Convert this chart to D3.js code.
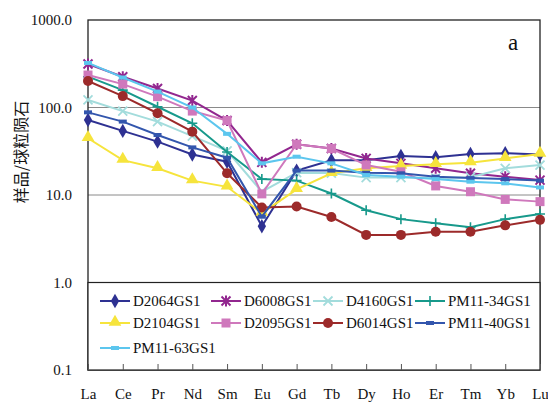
<!DOCTYPE html>
<html>
<head>
<meta charset="utf-8">
<title>REE pattern</title>
<script src="https://d3js.org/d3.v7.min.js"></script>
<style>
  body { margin: 0; background: #fff; }
  svg text { font-family: 'Liberation Serif', 'Times New Roman', 'DejaVu Serif', serif; fill: #111; }
</style>
</head>
<body>
<div id="chart"></div>
<script>
const elements = ["La","Ce","Pr","Nd","Sm","Eu","Gd","Tb","Dy","Ho","Er","Tm","Yb","Lu"];
const yTicks = [0.1, 1, 10, 100, 1000];

const D2064GS1   = [72, 54, 40.7, 29, 24, 4.4, 19, 25, 25, 27.9, 27, 29.4, 30, 29];
const D6008GS1   = [314, 225, 165, 120, 71, 23.6, 38, 34, 26.2, 23, 20.2, 17.7, 16.2, 14.8];
const D4160GS1   = [122, 91, 69, 47, 32, 10.9, 18, 17.8, 15.8, 15.8, 15.6, 16, 20.2, 22];
const PM11_34GS1 = [225, 158, 102, 66, 31, 15.2, 14.6, 10.4, 6.7, 5.3, 4.75, 4.27, 5.3, 6.07];
const D2104GS1   = [44.5, 25, 20.2, 14.6, 12.4, 6.2, 11.6, 17.7, 20.2, 21.4, 22.4, 23.4, 26.2, 29.4];
const D2095GS1   = [235, 185, 133, 91, 71, 10.3, 38, 34, 22, 18.4, 12.7, 10.9, 8.9, 8.4];
const D6014GS1   = [201, 135, 86, 53, 17.7, 7.2, 7.4, 5.6, 3.5, 3.5, 3.8, 3.8, 4.5, 5.2];
const PM11_40GS1 = [88, 69, 48.5, 35, 26.7, 5.65, 19, 19, 18, 17.7, 16.2, 15.6, 15.2, 14.6];
const PM11_63GS1 = [323, 220, 152, 100, 50, 23, 27.4, 23, 16.9, 16.2, 15.2, 14.2, 13.6, 12.2];

const series = [
  {name: "D2064GS1",   values: D2064GS1,   color: "#2e3192", mark: "diamond"},
  {name: "D6008GS1",   values: D6008GS1,   color: "#92278f", mark: "star"},
  {name: "D4160GS1",   values: D4160GS1,   color: "#a3dcdc", mark: "times"},
  {name: "PM11-34GS1", values: PM11_34GS1, color: "#17998b", mark: "plus"},
  {name: "D2104GS1",   values: D2104GS1,   color: "#f6e43c", mark: "triangle"},
  {name: "D2095GS1",   values: D2095GS1,   color: "#cf78bc", mark: "square"},
  {name: "D6014GS1",   values: D6014GS1,   color: "#9c2a2a", mark: "circle"},
  {name: "PM11-40GS1", values: PM11_40GS1, color: "#3356ad", mark: "dash"},
  {name: "PM11-63GS1", values: PM11_63GS1, color: "#5cc6ee", mark: "dash"}
];

const W = 548, H = 404;
const pL = 88, pR = 540, pT = 20, pB = 370;
const serif = "'Liberation Serif', 'Times New Roman', 'DejaVu Serif', serif";

const svg = d3.select("#chart").append("svg").attr("width", W).attr("height", H)
  .attr("font-family", serif);

const x = d3.scalePoint().domain(elements).range([pL, pR]);
const y = d3.scaleLog().domain([0.1, 1000]).range([pB, pT]);

// grid
svg.append("g").selectAll("line").data([1, 10, 100]).enter().append("line")
  .attr("x1", pL).attr("x2", pR)
  .attr("y1", d => y(d)).attr("y2", d => y(d))
  .attr("stroke", "#8a8a8a").attr("stroke-width", 1);

// frame
svg.append("rect").attr("x", pL).attr("y", pT)
  .attr("width", pR - pL).attr("height", pB - pT)
  .attr("fill", "none").attr("stroke", "#222").attr("stroke-width", 1.3);

// legend box
svg.append("rect").attr("x", pL).attr("y", y(1))
  .attr("width", pR - pL).attr("height", pB - y(1))
  .attr("fill", "#fff").attr("stroke", "#222").attr("stroke-width", 1.2);

// y axis labels
const yAxis = d3.axisLeft(y).tickValues(yTicks).tickSize(0).tickPadding(16)
  .tickFormat(d3.format(".1f"));
const ya = svg.append("g").attr("transform", `translate(${pL},0)`).call(yAxis)
  .attr("font-family", serif).attr("font-size", 15);
ya.select(".domain").remove();
ya.selectAll("text").attr("fill", "#111");

// x axis
const xAxis = d3.axisBottom(x).tickSizeInner(-6).tickSizeOuter(0).tickPadding(18);
const xa = svg.append("g").attr("transform", `translate(0,${pB})`).call(xAxis)
  .attr("font-family", serif).attr("font-size", 15);
xa.select(".domain").remove();
xa.selectAll("line").attr("stroke", "#555");
xa.selectAll("text").attr("fill", "#111");

// y title
svg.append("text").attr("transform", `translate(20,152) rotate(-90)`)
  .attr("text-anchor", "middle").attr("dominant-baseline", "central")
  .style("font-family", "'Noto Sans CJK SC', sans-serif").style("font-size", "16px")
  .text("样品/球粒陨石");

svg.append("text").attr("x", 513).attr("y", 50).attr("text-anchor", "middle")
  .attr("font-size", 23).text("a");

function drawMark(g, type, color, cx, cy) {
  if (type === "diamond") {
    g.append("path").attr("d", d3.symbol(d3.symbolDiamond, 60)()).attr("transform", `translate(${cx},${cy})`).attr("fill", color);
  } else if (type === "triangle") {
    g.append("path").attr("d", d3.symbol(d3.symbolTriangle, 70)()).attr("transform", `translate(${cx},${cy - 1})`).attr("fill", color);
  } else if (type === "square") {
    g.append("rect").attr("x", cx - 4.5).attr("y", cy - 4.5).attr("width", 9).attr("height", 9).attr("fill", color);
  } else if (type === "circle") {
    g.append("circle").attr("cx", cx).attr("cy", cy).attr("r", 5).attr("fill", color);
  } else if (type === "dash") {
    g.append("rect").attr("x", cx - 4).attr("y", cy - 2).attr("width", 8).attr("height", 4).attr("fill", color);
  } else if (type === "star") {
    const s = 4.5;
    g.append("path").attr("d", `M${cx - s},${cy - s}L${cx + s},${cy + s}M${cx - s},${cy + s}L${cx + s},${cy - s}M${cx},${cy - s - 1}L${cx},${cy + s + 1}`)
      .attr("stroke", color).attr("stroke-width", 2).attr("fill", "none");
  } else if (type === "times") {
    const s = 4.5;
    g.append("path").attr("d", `M${cx - s},${cy - s}L${cx + s},${cy + s}M${cx - s},${cy + s}L${cx + s},${cy - s}`)
      .attr("stroke", color).attr("stroke-width", 1.8).attr("fill", "none");
  } else if (type === "plus") {
    const s = 5;
    g.append("path").attr("d", `M${cx - s},${cy}L${cx + s},${cy}M${cx},${cy - s}L${cx},${cy + s}`)
      .attr("stroke", color).attr("stroke-width", 1.6).attr("fill", "none");
  }
}

const line = d3.line().x((d, i) => x(elements[i])).y(d => y(d));

series.forEach(s => {
  const g = svg.append("g");
  g.append("path").datum(s.values).attr("d", line)
    .attr("fill", "none").attr("stroke", s.color).attr("stroke-width", 2);
  s.values.forEach((v, i) => drawMark(g, s.mark, s.color, x(elements[i]), y(v)));
});

// legend
const legX = [133, 244, 346, 448];
const legY = [301, 323, 348];
const lg = svg.append("g");
series.forEach((s, i) => {
  const tx = legX[i % 4], ty = legY[Math.floor(i / 4)];
  lg.append("line").attr("x1", tx - 33).attr("x2", tx - 3).attr("y1", ty).attr("y2", ty)
    .attr("stroke", s.color).attr("stroke-width", 2);
  drawMark(lg, s.mark, s.color, tx - 18, ty);
  lg.append("text").attr("x", tx).attr("y", ty + 5).attr("font-size", 15).text(s.name);
});
</script>
</body>
</html>
